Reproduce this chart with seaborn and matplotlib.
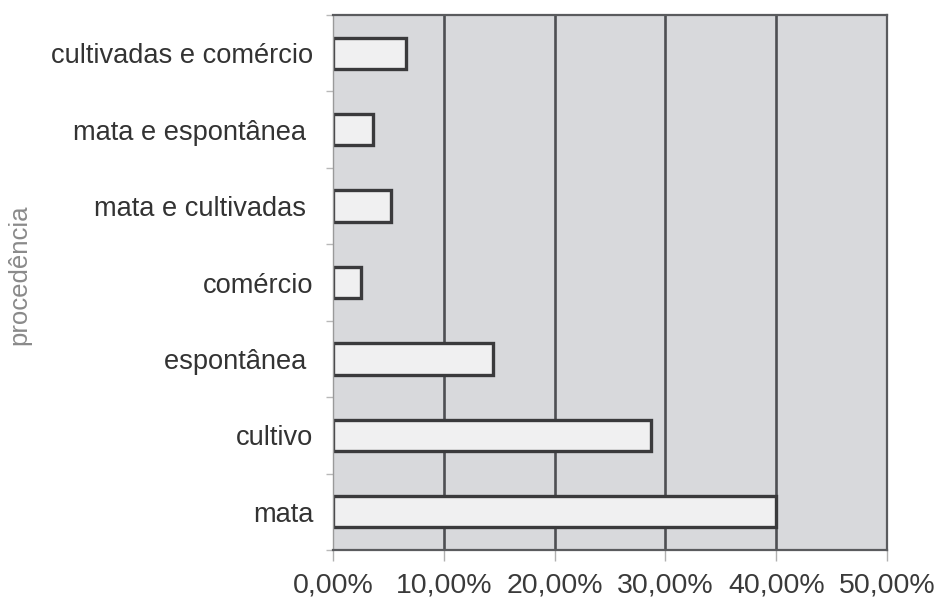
import matplotlib
matplotlib.use("Agg")
import matplotlib.pyplot as plt
import seaborn as sns
import pandas as pd
import numpy as np

# Origin of the plants (share of citations)
categorias = [
    "cultivadas e comércio",
    "mata e espontânea ",
    "mata e cultivadas ",
    "comércio",
    "espontânea ",
    "cultivo",
    "mata",
]
percentuais = [6.6, 3.6, 5.2, 2.5, 14.4, 28.7, 40.0]
x_ticks = [0, 10, 20, 30, 40, 50]
x_tick_labels = ["0,00%", "10,00%", "20,00%", "30,00%", "40,00%", "50,00%"]

df = pd.DataFrame({"procedencia": categorias, "valor": percentuais})

sns.set_theme(style="white")
plt.rcParams["font.family"] = ["Liberation Sans", "DejaVu Sans"]

fig = plt.figure(figsize=(9.42, 6.04), dpi=100)
ax = fig.add_axes([333 / 942, 1 - 550 / 604, (887 - 333) / 942, (550 - 15) / 604])
ax.set_facecolor("#d8d9dc")

sns.barplot(
    data=df, x="valor", y="procedencia", orient="h", ax=ax,
    color="#f0f0f1", edgecolor="#3a3a3c", linewidth=2.4, width=0.41,
    saturation=1,
)

ax.set_xlim(0, 50)
ax.set_ylim(len(categorias) - 0.5, -0.5)

# vertical grid lines behind the bars
for xv in x_ticks[1:-1]:
    ax.axvline(xv, color="#4e4f53", linewidth=1.9, zorder=0)

ax.set_xticks(x_ticks)
ax.set_xticklabels(x_tick_labels, fontsize=20.5, color="#3a3a3a")
ax.tick_params(axis="x", bottom=True, length=8, width=1, color="#b0b0b0", pad=8)

ax.set_yticks(range(len(categorias)))
ax.set_yticklabels(categorias, fontsize=19.6, color="#333333")
ax.tick_params(axis="y", left=False, length=0, pad=14)
ax.set_yticks(np.arange(-0.5, len(categorias), 1), minor=True)
ax.tick_params(axis="y", which="minor", left=True, length=5, width=1, color="#b8b8b8")

ax.set_xlabel("")
ax.set_ylabel("procedência", fontsize=18.5, color="#8a8a8a")
ax.yaxis.set_label_coords(-0.545, 0.515)

for side in ["top", "right", "bottom", "left"]:
    ax.spines[side].set_visible(True)
    ax.spines[side].set_color("#5a5b5e")
    ax.spines[side].set_linewidth(1.6)
ax.spines["left"].set_color("#9a9a9a")
ax.spines["left"].set_linewidth(1.0)

fig.savefig("out.png", dpi=100)
